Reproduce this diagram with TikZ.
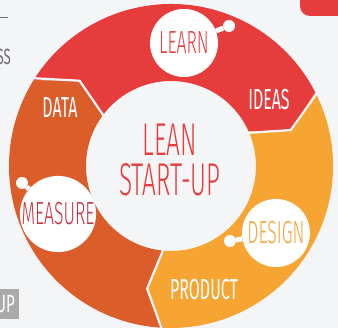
\documentclass[tikz,border=0pt]{standalone}
\usepackage{fontspec}
\usepackage{graphicx}
\setmainfont{Fira Sans}
\newfontfamily\thinfont{Fira Sans Light}

\definecolor{leanred}{RGB}{231,60,60}
\definecolor{leanorange}{RGB}{219,94,42}
\definecolor{leanyellow}{RGB}{246,165,50}
\definecolor{pagegray}{RGB}{244,245,247}
\definecolor{measurered}{RGB}{205,50,65}
\definecolor{textgray}{RGB}{110,110,114}
\definecolor{boxgray}{RGB}{170,170,170}

\begin{document}
\begin{tikzpicture}[x=1pt, y=1pt,
    gap/.style={draw=pagegray, line width=2.2, line join=round},
    stagelabel/.style={text=white, inner sep=0, font=\fontsize{29}{29}\selectfont},
    bubble/.style={circle, fill=white, minimum size=68, inner sep=0, font=\thinfont\fontsize{32}{32}\selectfont},
    knob/.style={circle, fill=white, minimum size=12, inner sep=0},
    neck/.style={white, line width=5}]
    \useasboundingbox (0,0) rectangle (338,328);
    \fill[pagegray] (0,0) rectangle (338,328);
    \clip (0,0) rectangle (338,328);
    \coordinate (c) at (171,162);

    % cropped bits of the slide
    \draw[textgray, line width=1] (0,310) -- (8,310);
    \node[anchor=east, text=textgray, inner sep=0, font=\fontsize{22}{22}\selectfont] (ss) at (11,271) {\scalebox{0.6}[1]{SS}};
    \fill[leanred, rounded corners=10] (300,312) rectangle (370,345);
    \fill[boxgray] (-5,9) rectangle (19,39);
    \node[anchor=east, text=white, inner sep=0, font=\fontsize{25}{25}\selectfont] (up) at (15,24) {\scalebox{0.6}[1]{UP}};

    % ring
    \fill[leanred] ([shift={(c)}]148:162) arc[start angle=148, end angle=27, radius=162]
        -- ([shift={(c)}]16.7:125) -- ([shift={(c)}]24:85) arc[start angle=24, end angle=144, radius=85]
        -- ([shift={(c)}]137:125) -- cycle;
    \fill[leanyellow] ([shift={(c)}]27:162) arc[start angle=27, end angle=-92.8, radius=162]
        -- ([shift={(c)}]-101:125) -- ([shift={(c)}]-94.6:85) arc[start angle=-94.6, end angle=24, radius=85]
        -- ([shift={(c)}]16.7:125) -- cycle;
    \fill[leanorange] ([shift={(c)}]-92.8:162) arc[start angle=-92.8, end angle=-212, radius=162]
        -- ([shift={(c)}]-223:125) -- ([shift={(c)}]-216:85) arc[start angle=-216, end angle=-94.6, radius=85]
        -- ([shift={(c)}]-101:125) -- cycle;
    \draw[gap] ([shift={(c)}]148:166) -- ([shift={(c)}]137:125) -- ([shift={(c)}]144:81);
    \draw[gap] ([shift={(c)}]27:166) -- ([shift={(c)}]16.7:125) -- ([shift={(c)}]24:81);
    \draw[gap] ([shift={(c)}]-92.8:166) -- ([shift={(c)}]-101:125) -- ([shift={(c)}]-94.6:81);

    % stage names
    \node[stagelabel] (data) at (60,220) {\scalebox{0.55}[1]{DATA}};
    \node[stagelabel] (ideas) at (269,228) {\scalebox{0.55}[1]{IDEAS}};
    \node[stagelabel] (product) at (204,38) {\scalebox{0.55}[1]{PRODUCT}};

    \node[text=leanred, inner sep=0, align=center, font=\thinfont\fontsize{46}{40}\selectfont] (title) at (170,168)
        {\scalebox{0.53}[1]{LEAN}\\\scalebox{0.53}[1]{START-UP}};

    % bubbles
    \node[knob] (learnknob) at (229,302) {};
    \node[knob] (measureknob) at (22,145) {};
    \node[knob] (designknob) at (230,87) {};
    \node[bubble, text=leanred] (learn) at (184,285) {\scalebox{0.55}[1]{LEARN}};
    \node[bubble, text=measurered] (measure) at (58,114) {\scalebox{0.55}[1]{MEASURE}};
    \node[bubble, text=leanyellow] (design) at (276,95) {\scalebox{0.55}[1]{DESIGN}};
    \draw[neck] (learnknob) -- (learn);
    \draw[neck] (measureknob) -- (measure);
    \draw[neck] (designknob) -- (design);
\end{tikzpicture}
\end{document}
